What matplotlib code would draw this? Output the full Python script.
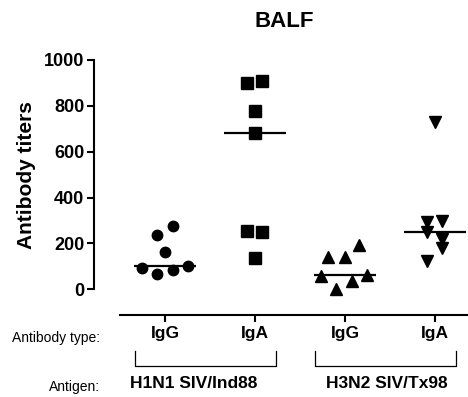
import numpy as np
import matplotlib
matplotlib.use("Agg")
import matplotlib.pyplot as plt
import matplotlib.transforms as mtransforms
from matplotlib.lines import Line2D

plt.rcParams['font.family'] = ['Liberation Sans', 'DejaVu Sans']

# ---- data ----
groups = ["IgG", "IgA", "IgG", "IgA"]
antigens = ["H1N1 SIV/Ind88", "H3N2 SIV/Tx98"]
igg_h1 = [276, 236, 163, 93, 102, 65, 83]
iga_h1 = [898, 908, 777, 680, 256, 251, 135]
igg_h3 = [193, 142, 142, 58, 61, 38, 0]
iga_h3 = [731, 295, 299, 250, 218, 179, 123]
series = [igg_h1, iga_h1, igg_h3, iga_h3]
yticks = [0, 200, 400, 600, 800, 1000]

# horizontal scatter offsets (layout only)
jitter = [
    [0.09, -0.09, 0.0, -0.26, 0.26, -0.09, 0.09],
    [-0.09, 0.08, 0.0, 0.0, -0.09, 0.08, 0.0],
    [0.16, -0.19, 0.0, -0.27, 0.24, 0.08, -0.10],
    [0.0, -0.09, 0.08, -0.09, 0.08, 0.08, -0.09],
]
markers = ['o', 's', '^', 'v']
msizes = [7.5, 8, 8.5, 8.5]

W, H = 468, 397
fig = plt.figure(figsize=(W / 100, H / 100), dpi=100)
px0, px1 = 120, 468
py_top, py_bot = 60, 289.3
ax = fig.add_axes([px0 / W, (H - py_bot) / H, (px1 - px0) / W, (py_bot - py_top) / H])

for i, vals in enumerate(series):
    xs = i + np.array(jitter[i])
    ax.plot(xs, vals, linestyle='none', marker=markers[i], ms=msizes[i],
            color='black', clip_on=False, zorder=3)
    med = np.median(vals)
    ax.plot([i - 0.34, i + 0.34], [med, med], color='black', lw=1.6,
            solid_capstyle='butt', zorder=4)

ax.set_xlim(-0.5, (px1 - 165) / 90)
ax.set_ylim(0, 1000)

for s in ['top', 'right']:
    ax.spines[s].set_visible(False)
ax.spines['left'].set_position(('outward', 18.7))
ax.spines['bottom'].set_position(('outward', 18.5))
ax.spines['left'].set_linewidth(1.5)
ax.spines['bottom'].set_linewidth(1.5)
ax.spines['left'].set_bounds(0, 1000)
ax.tick_params(axis='both', direction='out', length=5, width=1.5)
ax.tick_params(axis='y', pad=2, labelsize=13)
ax.tick_params(axis='x', pad=3, labelsize=12.5)

ax.set_yticks(yticks)
ax.set_yticklabels([str(v) for v in yticks], fontsize=13, fontweight='bold')
ax.set_xticks(range(len(groups)))
ax.set_xticklabels(groups, fontsize=12.5, fontweight='bold')

ax.set_ylabel("Antibody titers", fontsize=15, fontweight='bold', labelpad=6)

# Title
fig.text(284.5 / W, 1 - 21.5 / H, "BALF", fontsize=16, fontweight='bold',
         ha='center', va='center')

# Row labels
fig.text(100 / W, 1 - 338 / H, "Antibody type:", fontsize=10,
         ha='right', va='center')
fig.text(100 / W, 1 - 387 / H, "Antigen:", fontsize=10,
         ha='right', va='center')

# Brackets (x in data, y in axes coords)
trans = mtransforms.blended_transform_factory(ax.transData, ax.transAxes)
y_low = (py_bot - 366) / (py_bot - py_top)
y_high = (py_bot - 351) / (py_bot - py_top)
y_text = (py_bot - 384) / (py_bot - py_top)
for k, name in enumerate(antigens):
    c = 2 * k + 0.45
    hw = 0.78
    ax.add_line(Line2D([c - hw, c - hw, c + hw, c + hw],
                       [y_high, y_low, y_low, y_high],
                       transform=trans, color='black', lw=0.9, clip_on=False))
    ax.text(2 * k + (0.32 if k == 0 else 0.46), y_text, name, transform=trans,
            fontsize=12.5, fontweight='bold', ha='center', va='center',
            clip_on=False)

fig.savefig("out.png", dpi=100)
